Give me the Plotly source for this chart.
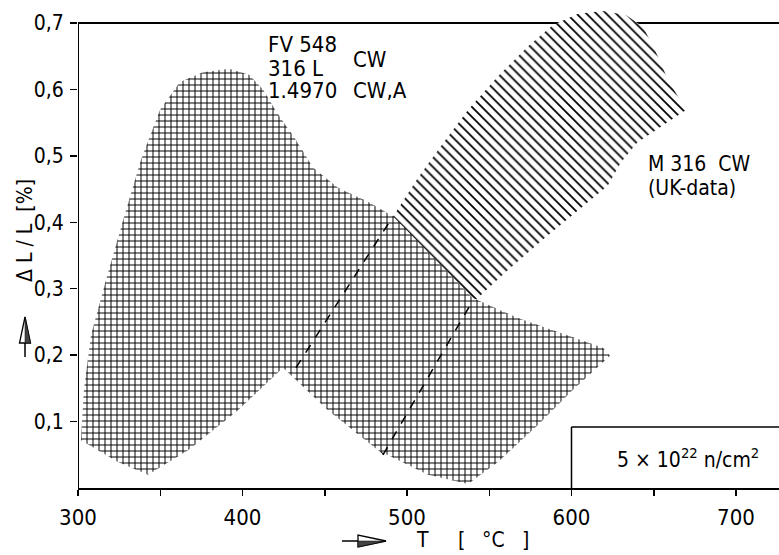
import plotly.graph_objects as go

# ---------------- data ----------------
# FV 548 / 316 L / 1.4970 band (cross-hatched), outline in (T [°C], dL/L [%])
fv_T = [301.8, 303.6, 307.9, 317.0, 327.4, 338.3, 349.8, 362.0, 376.0, 392.0, 404.0, 412.5,
        421.0, 432.5, 442.9, 458.1, 476.3, 491.5, 512.8, 540.1, 567.5, 597.9, 619.1, 623.4,
        600.9, 579.6, 555.3, 537.1, 512.8, 482.4, 452.0, 424.6, 397.3, 366.9, 342.6, 324.3]
fv_y = [0.072, 0.148, 0.230, 0.313, 0.403, 0.494, 0.569, 0.611, 0.626, 0.631, 0.622, 0.600,
        0.565, 0.524, 0.482, 0.452, 0.431, 0.409, 0.355, 0.286, 0.256, 0.229, 0.211, 0.199,
        0.148, 0.095, 0.039, 0.006, 0.020, 0.057, 0.117, 0.181, 0.117, 0.057, 0.020, 0.039]

# M 316 CW (UK-data) band (single hatched)
m_T = [432.5, 491.5, 506.7, 521.9, 537.1, 555.3, 573.6, 588.8, 604.0, 619.1, 633.1, 643.5,
       650.8, 658.7, 669.6, 655.0, 640.0, 630.0, 622.0, 605.0, 583.0, 560.0, 538.3, 485.4]
m_y = [0.181, 0.409, 0.467, 0.519, 0.569, 0.620, 0.665, 0.697, 0.714, 0.718, 0.712, 0.694,
       0.659, 0.614, 0.569, 0.545, 0.520, 0.490, 0.455, 0.420, 0.375, 0.325, 0.275, 0.050]

# dashed continuation of the M 316 band edges inside the cross-hatched band
dash_upper_T = [432.5, 491.5]
dash_upper_y = [0.181, 0.409]
dash_lower_T = [485.4, 538.3]
dash_lower_y = [0.050, 0.275]

x_tickvals = [300, 400, 500, 600, 700]
x_ticktext = ["300", "400", "500", "600", "700"]
y_tickvals = [0.1, 0.2, 0.3, 0.4, 0.5, 0.6, 0.7]
y_ticktext = ["0,1", "0,2", "0,3", "0,4", "0,5", "0,6", "0,7"]

FONT = "DejaVu Sans Condensed, Liberation Sans Narrow, DejaVu Sans, sans-serif"

# ---------------- geometry helpers (pixel -> paper) ----------------
W, H = 779, 555
ML, MR, MT, MB = 78, 0, 10, 67
PW, PH = W - ML - MR, H - MT - MB
X0, X1 = 300, 300 + PW / 1.645
Y0, Y1 = 0.0, PH / 664.3


def px(x):
    return (x - ML) / PW


def py(y):
    return (H - MB - y) / PH


fig = go.Figure()

fig.add_trace(go.Scatter(
    x=m_T, y=m_y, mode="lines", fill="toself", line=dict(width=0, color="black"),
    fillcolor="white",
    fillpattern=dict(shape="\\", size=7, solidity=0.25, fgcolor="black", bgcolor="white",
                     fgopacity=1),
    hoverinfo="skip", showlegend=False))

fig.add_trace(go.Scatter(
    x=fv_T, y=fv_y, mode="lines", fill="toself", line=dict(width=0, color="black"),
    fillcolor="white",
    fillpattern=dict(shape="+", size=6, solidity=0.3, fgcolor="black", bgcolor="white",
                     fgopacity=1),
    hoverinfo="skip", showlegend=False))

for tx, ty in ((dash_upper_T, dash_upper_y), (dash_lower_T, dash_lower_y)):
    fig.add_trace(go.Scatter(x=tx, y=ty, mode="lines",
                             line=dict(color="black", width=1.5, dash="dash"),
                             hoverinfo="skip", showlegend=False))

shapes = [
    # top frame line at 0.7 (below traces, hidden by hatch)
    dict(type="line", xref="x", yref="y", x0=X0, x1=X1, y0=0.7, y1=0.7,
         line=dict(color="black", width=2), layer="below"),
    # left axis line
    dict(type="line", xref="x", yref="y", x0=300, x1=300, y0=-0.012, y1=0.7,
         line=dict(color="black", width=2), layer="above"),
    # fluence box
    dict(type="line", xref="x", yref="y", x0=600, x1=600, y0=0, y1=0.092,
         line=dict(color="black", width=1.5)),
    dict(type="line", xref="x", yref="y", x0=600, x1=X1, y0=0.092, y1=0.092,
         line=dict(color="black", width=1.5)),
    # y arrow
    dict(type="line", xref="paper", yref="paper", x0=px(25), x1=px(25), y0=py(357), y1=py(320),
         line=dict(color="black", width=1.5)),
    dict(type="path", xref="paper", yref="paper",
         path=f"M {px(25)} {py(317)} L {px(19.5)} {py(343)} L {px(30.5)} {py(343)} Z",
         line=dict(color="black", width=1.3), fillcolor="white"),
    dict(type="path", xref="paper", yref="paper",
         path=f"M {px(25)} {py(317)} L {px(25)} {py(343)} L {px(30.5)} {py(343)} Z",
         line=dict(color="black", width=0.5), fillcolor="#444"),
    # x arrow
    dict(type="line", xref="paper", yref="paper", x0=px(342), x1=px(360), y0=py(541), y1=py(541),
         line=dict(color="black", width=1.5)),
    dict(type="path", xref="paper", yref="paper",
         path=f"M {px(386)} {py(541)} L {px(358)} {py(535)} L {px(358)} {py(547)} Z",
         line=dict(color="black", width=1.3), fillcolor="white"),
    dict(type="path", xref="paper", yref="paper",
         path=f"M {px(386)} {py(541)} L {px(358)} {py(541)} L {px(358)} {py(547)} Z",
         line=dict(color="black", width=0.5), fillcolor="#444"),
]


def ann(text, x, y, size=22, xref="x", yref="y", xanchor="left", angle=0):
    return dict(text=text, x=x, y=y, xref=xref, yref=yref, xanchor=xanchor, yanchor="middle",
                showarrow=False, textangle=angle, font=dict(family=FONT, size=size, color="black"))


annotations = [
    ann("FV 548", 414, 0.667),
    ann("CW", 466, 0.645),
    ann("316 L", 414, 0.632),
    ann("1.4970", 414, 0.598),
    ann("CW,A", 466, 0.598),
    ann("M 316  CW", 645, 0.487, size=21),
    ann("(UK-data)", 645, 0.452, size=21),
    ann("5 × 10<sup>22</sup> n/cm<sup>2</sup>", 671, 0.045, size=21, xanchor="center"),
    ann("T", px(422), py(540), size=21, xref="paper", yref="paper", xanchor="center"),
    ann("[", px(461), py(540), size=21, xref="paper", yref="paper", xanchor="center"),
    ann("°C", px(493), py(540), size=21, xref="paper", yref="paper", xanchor="center"),
    ann("]", px(525), py(540), size=21, xref="paper", yref="paper", xanchor="center"),
    ann("Δ L / L  [%]", px(25), py(230), size=21, xref="paper", yref="paper",
        xanchor="center", angle=-90),
]

fig.update_layout(
    width=W, height=H,
    margin=dict(l=ML, r=MR, t=MT, b=MB, pad=0),
    paper_bgcolor="white", plot_bgcolor="white",
    shapes=shapes, annotations=annotations,
    showlegend=False,
    xaxis=dict(range=[X0, X1], tickvals=x_tickvals, ticktext=x_ticktext,
               ticks="outside", ticklen=6, tickwidth=1.5, tickcolor="black",
               minor=dict(tick0=300, dtick=50, ticks="outside", ticklen=6, tickwidth=1.5,
                          tickcolor="black", showgrid=False),
               showline=True, linecolor="black", linewidth=2, showgrid=False, zeroline=False,
               tickfont=dict(family=FONT, size=22, color="black"), ticklabelstandoff=3,
               fixedrange=True),
    yaxis=dict(range=[Y0, Y1], tickvals=y_tickvals, ticktext=y_ticktext,
               ticks="outside", ticklen=7, tickwidth=1.5, tickcolor="black",
               showline=False, showgrid=False, zeroline=False,
               tickfont=dict(family=FONT, size=21, color="black"), ticklabelstandoff=2,
               fixedrange=True),
)

fig.write_html("out.html", config={"staticPlot": True},
               post_script="document.body.style.margin='0px';"
                           "document.body.style.overflow='hidden';")
